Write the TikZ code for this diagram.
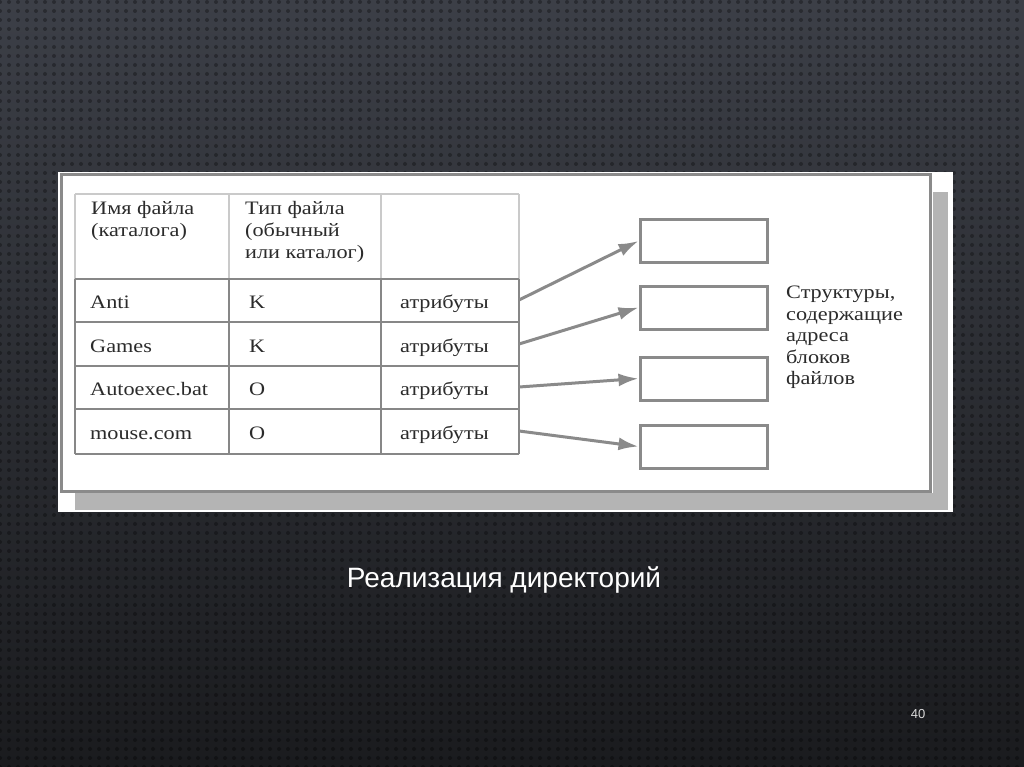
\documentclass[tikz,border=0pt]{standalone}
\usepackage{fontspec}
\setmainfont{Liberation Serif}
\newfontfamily\scanfont[FakeStretch=1.17]{Liberation Serif}
\newfontfamily\capfont{Liberation Sans}
\usetikzlibrary{arrows.meta,patterns.meta}
\definecolor{bgtop}{HTML}{3C3F47}
\definecolor{bgbot}{HTML}{1A1B1E}
\definecolor{framegray}{HTML}{8A8A8A}
\definecolor{shadowgray}{HTML}{B4B4B4}
\definecolor{headline}{HTML}{CACACA}
\definecolor{bodyline}{HTML}{878787}
\definecolor{inkc}{HTML}{2B2B2B}
\tikzset{
  celltext/.style={anchor=base west, inner sep=0pt, text=inkc, font=\scanfont\fontsize{19}{21}\selectfont},
  headtext/.style={anchor=north west, inner sep=0pt, text=inkc, align=left, font=\scanfont\fontsize{19}{22}\selectfont},
  blockbox/.style={draw=framegray, line width=3pt, minimum width=127pt, minimum height=43pt, inner sep=0pt, fill=white},
  ptr/.style={draw=framegray, line width=3pt, -{Latex[length=20pt,width=13pt]}},
  hline/.style={draw=headline, line width=2pt},
  bline/.style={draw=bodyline, line width=2.5pt},
}
\begin{document}
\begin{tikzpicture}[x=1pt,y=-1pt]
\useasboundingbox (0,0) rectangle (1024,767);
\shade[top color=bgtop, bottom color=bgbot] (0,0) rectangle (1024,767);
\fill[pattern={Dots[distance=9pt,radius=2pt]}, pattern color=black, opacity=0.3] (0,0) rectangle (1024,767);
% picture area
\fill[white] (58,172) rectangle (953,512);
\fill[shadowgray] (75,493) rectangle (948,510);
\fill[shadowgray] (933,192) rectangle (948,510);
\draw[framegray, line width=3pt] (61,175) rectangle (930,491);
% table header lines
\draw[hline] (75,194) -- (519,194);
\foreach \x in {75,229,381,519} \draw[hline] (\x,194) -- (\x,279);
% table body lines
\foreach \y in {279,322,366,409,454} \draw[bline] (75,\y) -- (519,\y);
\foreach \x in {75,229,381,519} \draw[bline] (\x,279) -- (\x,454);
% header text
\node[headtext] (h1) at (91,201) {Имя файла\\(каталога)};
\node[headtext] (h2) at (245,201) {Тип файла\\(обычный\\или каталог)};
% body text
\node[celltext] (n1) at (90,308) {Anti};
\node[celltext] (n2) at (90,352) {Games};
\node[celltext] (n3) at (90,395) {Autoexec.bat};
\node[celltext] (n4) at (90,439) {mouse.com};
\node[celltext] (t1) at (249,308) {K};
\node[celltext] (t2) at (249,352) {K};
\node[celltext] (t3) at (249,395) {O};
\node[celltext] (t4) at (249,439) {O};
\node[celltext] (a1) at (400,308) {атрибуты};
\node[celltext] (a2) at (400,352) {атрибуты};
\node[celltext] (a3) at (400,395) {атрибуты};
\node[celltext] (a4) at (400,439) {атрибуты};
% pointer start coordinates
\coordinate (p1) at (519,300);
\coordinate (p2) at (519,344);
\coordinate (p3) at (519,387);
\coordinate (p4) at (519,431);
% block structures
\node[blockbox] (b1) at (703.5,241) {};
\node[blockbox] (b2) at (703.5,307.5) {};
\node[blockbox] (b3) at (703.5,378.5) {};
\node[blockbox] (b4) at (703.5,446.5) {};
\draw[ptr] (p1) -- (b1.west);
\draw[ptr] (p2) -- (b2.west);
\draw[ptr] (p3) -- (b3.west);
\draw[ptr] (p4) -- (b4.west);
\node[headtext, font=\scanfont\fontsize{19}{21.5}\selectfont] (lbl) at (786,286) {Структуры,\\содержащие\\адреса\\блоков\\файлов};
% caption
\node[text=white, font=\capfont\fontsize{28}{32}\selectfont] (cap) at (504,580) {Реализация директорий};
\node[text=white!85!black, font=\capfont\fontsize{13}{15}\selectfont] (pg) at (918,714) {40};
\end{tikzpicture}
\end{document}
